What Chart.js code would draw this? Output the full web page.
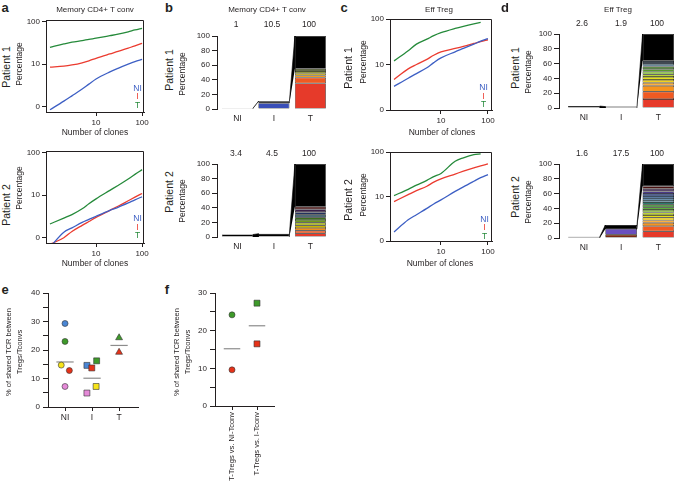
<!DOCTYPE html>
<html>
<head>
<meta charset="utf-8">
<title>TCR clonality</title>
<script src="https://cdn.jsdelivr.net/npm/chart.js@4.4.1/dist/chart.umd.min.js"></script>
<style>
  body { margin: 0; background: #fff; overflow: hidden; }
  #fig { position: relative; width: 674px; height: 493px; overflow: hidden;
         font-family: "Liberation Sans", Arial, sans-serif; color: #231f20; }
  #fig canvas { position: absolute; }
  .t { position: absolute; white-space: nowrap; line-height: 1; transform: translate(-50%, -50%); }
  .r { transform: translate(-50%, -50%) rotate(-90deg); }
</style>
</head>
<body>
<div id="fig"></div>
<script>
// ---- data ----
const clones = [1, 2, 3, 5, 7, 10, 20, 30, 50, 70, 100];

// a: memory CD4+ T conv, cumulative % vs number of clones
const memP1NI = [0.85, 1.35, 1.8, 2.6, 3.4, 4.5, 6.6, 8, 10, 11.5, 13];
const memP1I  = [8.5, 9, 9.6, 10.8, 12, 13.8, 17.5, 20, 24, 27, 31];
const memP1T  = [25, 30, 33, 36, 38.5, 41, 47, 51, 58, 64, 70];
const memP2NI = [0.6, 1.35, 1.7, 2.3, 2.7, 3.2, 4.4, 5.2, 6.6, 7.8, 9.2];
const memP2I  = [0.7, 1.0, 1.4, 1.95, 2.4, 3.0, 4.4, 5.5, 7.4, 9, 11];
const memP2T  = [2.1, 2.9, 3.5, 4.8, 6.3, 8.2, 13, 17, 24, 31, 40];

// c: effector Treg
const effP1NI = [3.3, 5, 6.3, 8.5, 11, 14, 19, 22.5, 28, 32.5, 37];
const effP1I  = [4.7, 8, 10, 13, 16, 19, 22.5, 25, 29, 32, 35];
const effP1T  = [12, 20, 28, 36, 43, 50, 62, 69, 78, 84, null];
const effP2NI = [1.6, 3, 3.9, 5.4, 6.8, 8.4, 13, 16.5, 22, 26.5, 31];
const effP2I  = [7.7, 11, 13.5, 17, 21, 25, 32, 37, 44, 49, 54];
const effP2T  = [10.5, 14.5, 18, 23, 28, 33, 62, 74, 87, 91, null];

// b / d: clone segments stacked in each bar (bottom to top), percent
const barCats = ['NI', 'I', 'T'];
const memP1Bars = { NI: [1], I: [8, 2.5], T: [35, 8, 3, 3, 3, 3, 45] };
const memP2Bars = { NI: [3.4], I: [4.5], T: [5, 3.7, 3.6, 3.7, 3.6, 3.7, 3.7, 3.6, 3.4, 4, 3.5, 58.5] };
const effP1Bars = { NI: [2.6], I: [1.9], T: [12, 10, 8, 4, 4, 4, 3.5, 3.5, 3.5, 3.5, 3.5, 2.5, 2, 36] };
const effP2Bars = { NI: [1.6], I: [4.5, 7.7, 5.3],
                    T: [9, 7, 4.5, 3.5, 3.5, 3.5, 3.5, 3.5, 3.5, 3.5, 3.5, 2.8, 2.7, 2.7, 2.8, 3.5, 3.5, 3.5, 30] };
const barTotals = { memP1: ['1', '10.5', '100'], memP2: ['3.4', '4.5', '100'],
                    effP1: ['2.6', '1.9', '100'], effP2: ['1.6', '17.5', '100'] };
// flows between neighbouring bars: [from bar, low, high, low in next bar, high in next bar]
const memP1Flows = [[1, 0.4, 1, 9.8, 10.5], [2, 8, 10.5, 55, 100]];
const memP2Flows = [[1, 0, 3.4, 0, 4.5], [2, 0, 4.5, 41.5, 100]];
const effP1Flows = [[1, 0, 2.6, 0, 1.9], [2, 0, 1.9, 64, 100]];
const effP2Flows = [[1, 0, 1.6, 12.2, 17.5], [2, 12.2, 17.5, 70, 100]];

// e: % shared TCR between Tregs/Tconvs
const eCats = ['NI', 'I', 'T'];
const eNIx = [1, 1, 0.86, 1.16, 1];
const eNIy = [29.3, 23.0, 14.7, 12.8, 7.2];
const eIx = [1.81, 1.99, 2.17, 1.81, 2.15];
const eIy = [14.6, 13.7, 16.2, 4.9, 7.2];
const eTx = [3, 3];
const eTy = [24.3, 19.2];
const eMean = [15.8, 10.1, 21.6];

// f
const fCats = ['T-Tregs vs. NI-Tconv', 'T-Tregs vs. I-Tconv'];
const fCircle = [24.2, 9.6];
const fSquare = [27.3, 16.5];
const fMean = [15.2, 21.3];

// ---- colours ----
const ink = '#231f20';
const cNI = '#3d5fc4', cI = '#eb3b2f', cT = '#258a3a';
const warm = ['#e63a2a', '#f05a22', '#f7941d', '#fbb040', '#f2d21c', '#e6e01a', '#bcd432',
              '#8dc63f', '#5fae3a', '#3d8a2a', '#2a7a6a', '#7ab8d0', '#5aa0d8', '#3a78c0',
              '#2a4a9a', '#4a3a8a', '#3a2050', '#4a1010'];
const memP1Cols = { NI: ['#000'], I: ['#3a4fb8', '#000'],
                    T: ['#e63a2a', '#f05a22', '#f29a1c', '#c9a800', '#7f8a18', '#4d5a14', '#000'] };
const memP2Cols = { NI: ['#000'], I: ['#000'],
                    T: ['#e63a2a', '#f05a22', '#f0901e', '#c9b200', '#a8b414', '#6e9a1c', '#3c6e1e',
                        '#2b4c5c', '#22315e', '#3a1f4a', '#4a1414', '#000'] };
const effP1Cols = { NI: ['#000'], I: ['#000'],
                    T: ['#e63a2a', '#f05a22', '#f7941d', '#fbb040', '#f2d21c', '#e6e01a', '#bcd432',
                        '#8dc63f', '#5a9a2a', '#3d7a1f', '#6a8a9a', '#4a6a8a', '#2a4a6a', '#000'] };
const effP2Cols = { NI: ['#000'], I: ['#7a2a10', '#6a4fbf', '#000'], T: warm.concat(['#000']) };
const dot = { blue: '#4a86d4', green: '#3e9a2a', yellow: '#f7e419', red: '#e63219', pink: '#e58ad8' };

// ---- helpers ----
Chart.defaults.font.family = '"Liberation Sans", Arial, sans-serif';
Chart.defaults.font.size = 8;
Chart.defaults.color = ink;
Chart.defaults.animation = false;
Chart.defaults.plugins.legend.display = false;
Chart.defaults.plugins.tooltip.enabled = false;

const fig = document.getElementById('fig');

function txt(s, x, y, size, opts) {
  opts = opts || {};
  const d = document.createElement('div');
  d.className = 't' + (opts.rot ? ' r' : '');
  d.textContent = s;
  d.style.left = x + 'px';
  d.style.top = y + 'px';
  d.style.fontSize = size + 'px';
  if (opts.color) d.style.color = opts.color;
  if (opts.bold) d.style.fontWeight = 'bold';
  fig.appendChild(d);
}

// plot box for the curve panels (top and right sides)
const boxPlugin = {
  id: 'plotBox',
  afterDatasetsDraw(chart) {
    const a = chart.chartArea, c = chart.ctx;
    const l = Math.round(a.left) + 0.5, t = Math.round(a.top) + 0.5;
    const r = Math.round(a.right) - 0.5, b = Math.round(a.bottom);
    c.save();
    c.strokeStyle = ink;
    c.lineWidth = 1;
    c.beginPath();
    c.moveTo(l, t);
    c.lineTo(r, t);
    c.lineTo(r, b);
    c.stroke();
    c.restore();
  }
};

function makeChart(area, yw, xh, cfg) {
  const pad = { left: 2, top: 8, right: 14, bottom: 2 };
  const cv = document.createElement('canvas');
  cv.width = area.w + yw + pad.left + pad.right;
  cv.height = area.h + xh + pad.top + pad.bottom;
  cv.style.left = (area.x - yw - pad.left) + 'px';
  cv.style.top = (area.y - pad.top) + 'px';
  fig.appendChild(cv);
  cfg.options.responsive = false;
  cfg.options.layout = { padding: pad };
  cfg.options.scales.x.afterFit = s => { s.height = xh; };
  cfg.options.scales.y.afterFit = s => { s.width = yw; };
  return new Chart(cv, cfg);
}

function fixedTicks(vals) {
  return s => { s.ticks = vals.map(v => ({ value: v })); };
}

function logAxis(min, max, vals, fmt) {
  return {
    type: 'logarithmic', min: min, max: max,
    afterBuildTicks: fixedTicks(vals),
    ticks: { callback: fmt, padding: 2, autoSkip: false, maxRotation: 0 },
    grid: { drawOnChartArea: false, tickLength: 4, color: ink },
    border: { color: ink }
  };
}

function lineChart(area, xr, yr, series) {
  return makeChart(area, 30, 20, {
    type: 'line',
    data: {
      datasets: series.map(([vals, col]) => ({
        data: clones.map((c, i) => ({ x: c, y: vals[i] })),
        borderColor: col, borderWidth: 1.3, pointRadius: 0,
        cubicInterpolationMode: 'monotone', fill: false
      }))
    },
    options: {
      scales: {
        x: logAxis(xr[0], xr[1], [10, 100], v => v),
        y: logAxis(yr[0], yr[1], [1, 10, 100], v => (v === 1 ? '0' : v))
      }
    },
    plugins: [boxPlugin]
  });
}

const HW = 0.425; // half bar width, in category units
function barChart(area, xr, bars, cols, flows) {
  const datasets = [];
  barCats.forEach((cat, k) => bars[cat].forEach((v, i) => datasets.push({
    type: 'bar', data: [{ x: k + 1, y: v }], backgroundColor: cols[cat][i],
    borderColor: '#000', borderWidth: 0.6, borderSkipped: false,
    barPercentage: 2 * HW, categoryPercentage: 1
  })));
  flows.forEach(([p, lo1, hi1, lo2, hi2]) => datasets.push({
    type: 'line', yAxisID: 'yf',
    data: [{ x: p + HW, y: lo1 }, { x: p + HW, y: hi1 }, { x: p + 1 - HW, y: hi2 }, { x: p + 1 - HW, y: lo2 }],
    fill: 'shape', backgroundColor: '#000', borderColor: '#000', borderWidth: 0.6,
    pointRadius: 0, tension: 0
  }));
  return makeChart(area, 30, 16, {
    type: 'bar',
    data: { datasets },
    options: {
      scales: {
        x: {
          type: 'linear', min: xr[0], max: xr[1], stacked: true, offset: false,
          afterBuildTicks: fixedTicks([1, 2, 3]),
          ticks: { callback: v => barCats[v - 1], padding: 5, maxRotation: 0, autoSkip: false, font: { size: 8.5 } },
          grid: { display: false, drawTicks: false }, border: { display: false }
        },
        y: {
          type: 'linear', min: 0, max: 100, stacked: true,
          ticks: { stepSize: 20, padding: 2 },
          grid: { drawOnChartArea: false, tickLength: 5, color: ink }, border: { color: ink }
        },
        yf: { type: 'linear', min: 0, max: 100, display: false }
      }
    }
  });
}

function pts(xs, ys) { return xs.map((x, i) => ({ x: x, y: ys[i] })); }

function meanSets(means, half) {
  return means.map((m, i) => ({
    data: [{ x: i + 1 - half, y: m }, { x: i + 1 + half, y: m }],
    showLine: true, borderColor: '#8c8c8c', borderWidth: 1.2, pointRadius: 0
  }));
}

function dotSet(data, style, radius, colors) {
  return {
    data: data, pointStyle: style, pointRadius: radius,
    pointBackgroundColor: colors, pointBorderColor: '#333', pointBorderWidth: 0.6, showLine: false
  };
}

function dotChart(area, xr, ymax, cats, datasets, xh, rot) {
  return makeChart(area, 30, xh, {
    type: 'scatter',
    data: { datasets },
    options: {
      scales: {
        x: {
          type: 'linear', min: xr[0], max: xr[1],
          afterBuildTicks: fixedTicks(cats.map((c, i) => i + 1)),
          ticks: { callback: v => cats[v - 1], padding: 2, autoSkip: false,
                   minRotation: rot, maxRotation: rot, font: { size: rot ? 7.5 : 8.5 } },
          grid: { drawOnChartArea: false, tickLength: 4, color: ink }, border: { color: ink }
        },
        y: {
          type: 'linear', min: 0, max: ymax,
          ticks: { stepSize: 5, autoSkip: false, padding: 3, callback: v => (v % 10 ? '' : v) },
          grid: { drawOnChartArea: false, tickLength: 5, color: ink }, border: { color: ink }
        }
      }
    }
  });
}

// ---- a / c: cumulative frequency curves ----
lineChart({ x: 46, y: 20, w: 98, h: 92.5 }, [0.82, 110], [0.75, 110],
  [[memP1NI, cNI], [memP1I, cI], [memP1T, cT]]);
lineChart({ x: 46, y: 151, w: 98, h: 92 }, [0.82, 110], [0.75, 110],
  [[memP2NI, cNI], [memP2I, cI], [memP2T, cT]]);
lineChart({ x: 390, y: 19, w: 102, h: 91 }, [0.82, 122], [1, 100],
  [[effP1NI, cNI], [effP1I, cI], [effP1T, cT]]);
lineChart({ x: 390, y: 152, w: 102, h: 89 }, [0.82, 122], [1, 100],
  [[effP2NI, cNI], [effP2I, cI], [effP2T, cT]]);

// ---- b / d: clone bars ----
barChart({ x: 217, y: 36, w: 112, h: 73 }, [0.44, 3.51], memP1Bars, memP1Cols, memP1Flows);
barChart({ x: 217, y: 164, w: 112, h: 73 }, [0.44, 3.51], memP2Bars, memP2Cols, memP2Flows);
barChart({ x: 559, y: 34, w: 115, h: 74 }, [0.33, 3.42], effP1Bars, effP1Cols, effP1Flows);
barChart({ x: 559, y: 164, w: 115, h: 74 }, [0.33, 3.42], effP2Bars, effP2Cols, effP2Flows);

// ---- e ----
dotChart({ x: 48, y: 293, w: 90, h: 114 }, [0.37, 3.7], 40, eCats, [
  dotSet(pts(eNIx, eNIy), 'circle', 3, [dot.blue, dot.green, dot.yellow, dot.red, dot.pink]),
  dotSet(pts(eIx, eIy), 'rect', 4.2, [dot.blue, dot.red, dot.green, dot.pink, dot.yellow]),
  dotSet(pts(eTx, eTy), 'triangle', 4, [dot.green, dot.red])
].concat(meanSets(eMean, 0.32)), 16, 0);

// ---- f ----
dotChart({ x: 215, y: 293, w: 59, h: 113 }, [0.32, 2.68], 30, fCats, [
  dotSet(pts([1, 1], fCircle), 'circle', 3, [dot.green, dot.red]),
  dotSet(pts([2, 2], fSquare), 'rect', 4.2, [dot.green, dot.red])
].concat(meanSets(fMean, 0.33)), 85, 90);

// ---- text ----
[['a', 5, 7], ['b', 169, 7], ['c', 344, 7], ['d', 505, 7], ['e', 5, 289], ['f', 167, 289]]
  .forEach(([s, x, y]) => txt(s, x, y, 13, { bold: true }));

txt('Memory CD4+ T conv', 95, 10, 8);
txt('Memory CD4+ T conv', 267, 10, 8);
txt('Eff Treg', 439, 10, 8);
txt('Eff Treg', 618, 10, 8);

const totalX = { b: [236, 272, 309], d: [582, 621, 657] };
barTotals.memP1.forEach((s, i) => txt(s, totalX.b[i], 24, 8.5));
barTotals.memP2.forEach((s, i) => txt(s, totalX.b[i], 153, 8.5));
barTotals.effP1.forEach((s, i) => txt(s, totalX.d[i], 23, 8.5));
barTotals.effP2.forEach((s, i) => txt(s, totalX.d[i], 153, 8.5));

[['Patient 1', 6, 67], ['Patient 2', 6, 205], ['Patient 1', 169, 70], ['Patient 2', 169, 192],
 ['Patient 1', 348, 68], ['Patient 2', 348, 200], ['Patient 1', 515, 68], ['Patient 2', 515, 197]]
  .forEach(([s, x, y]) => txt(s, x, y, 10.5, { rot: true }));
[[19, 64], [19, 188], [182, 74], [182, 201], [363, 62], [363, 195], [528, 72], [528, 202]]
  .forEach(([x, y]) => txt('Percentage', x, y, 8.5, { rot: true }));

[[95, 132], [95, 263], [442, 132], [440, 263]].forEach(([x, y]) => txt('Number of clones', x, y, 8.5));

[[137.5, 87.5], [137.5, 218], [483.5, 87], [484.5, 218.5]].forEach(([x, y]) => {
  txt('NI', x, y, 8.5, { color: cNI });
  txt('I', x, y + 8.5, 8.5, { color: cI });
  txt('T', x, y + 17, 8.5, { color: cT });
});

txt('% of shared TCR between', 9, 352, 7.5, { rot: true });
txt('Tregs/Tconvs', 20, 352, 7.5, { rot: true });
txt('% of shared TCR between', 177, 352, 7.5, { rot: true });
txt('Tregs/Tconvs', 188, 352, 7.5, { rot: true });
</script>
</body>
</html>
